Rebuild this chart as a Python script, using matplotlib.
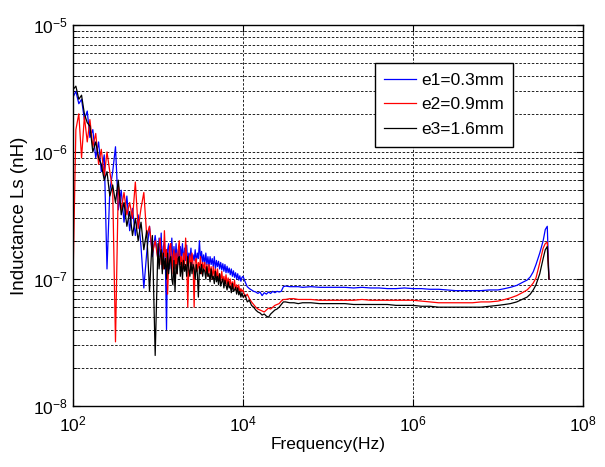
import numpy as np
import matplotlib
matplotlib.use("Agg")
import matplotlib.pyplot as plt
from matplotlib.ticker import LogLocator, FixedLocator, NullLocator, NullFormatter

plt.rcParams['font.family'] = ['Liberation Sans', 'DejaVu Sans']
plt.rcParams['mathtext.fontset'] = 'custom'
plt.rcParams['mathtext.rm'] = 'Liberation Sans'

# Frequency grid (Hz)
freq = [100, 108, 117, 126, 136, 147, 158, 171, 185, 200,
        215, 233, 251, 271, 293, 316, 341, 369, 398, 430,
        464, 501, 541, 584, 631, 681, 736, 794, 858, 926,
        1000, 1029, 1059, 1090, 1122, 1155, 1189, 1223, 1259, 1296,
        1334, 1372, 1413, 1454, 1496, 1540, 1585, 1631, 1679, 1728,
        1778, 1830, 1884, 1939, 1995, 2054, 2113, 2175, 2239, 2304,
        2371, 2441, 2512, 2585, 2661, 2738, 2818, 2901, 2985, 3073,
        3162, 3255, 3350, 3447, 3548, 3652, 3758, 3868, 3981, 4097,
        4217, 4340, 4467, 4597, 4732, 4870, 5012, 5158, 5309, 5464,
        5623, 5788, 5957, 6131, 6310, 6494, 6683, 6879, 7079, 7286,
        7499, 7718, 7943, 8175, 8414, 8660, 8913, 9173, 9441, 9716,
        10000, 10593, 11220, 11885, 12589, 13335, 14125, 14962, 15849, 16788,
        17783, 18836, 19953, 21135, 22387, 23714, 25119, 26607, 28184, 29854,
        31623, 35481, 39811, 44668, 50119, 63096, 79433, 1.0e5, 1.26e5, 1.58e5,
        2.0e5, 2.51e5, 3.16e5, 3.98e5, 5.01e5, 6.31e5, 7.94e5, 1.0e6, 1.26e6, 1.58e6,
        2.0e6, 2.51e6, 3.16e6, 3.98e6, 5.01e6, 6.31e6, 7.94e6, 1.0e7, 1.2e7, 1.4e7,
        1.66e7, 2.0e7, 2.2e7, 2.4e7, 2.6e7, 2.8e7, 3.1e7, 3.4e7, 3.6e7, 3.8e7,
        3.98e7]

# Inductance values in units of 1e-7
e1_vals = [27, 30, 24, 26, 18, 21, 13, 15, 9, 12,
           7, 9.5, 1.2, 5, 7, 11, 3.5, 5, 2.8, 4.5,
           2.4, 3.6, 2.2, 3.2, 1.8, 0.85, 1.6, 2.6, 1.5, 2.2,
           1.4, 2.1, 1.5, 2.3, 1.2, 1.8, 2.0, 1.3, 0.4, 1.7,
           1.9, 1.2, 1.6, 2.1, 1.3, 1.8, 1.4, 1.9, 1.25, 1.7,
           1.3, 1.8, 1.5, 1.9, 1.35, 1.75, 1.4, 1.85, 1.3, 1.6,
           1.45, 1.75, 1.3, 1.55, 1.4, 1.7, 1.35, 1.6, 1.45, 2.0,
           1.4, 1.65, 1.35, 1.55, 1.3, 1.6, 1.3, 1.5, 1.25, 1.5,
           1.3, 1.45, 1.25, 1.5, 1.2, 1.4, 1.25, 1.38, 1.2, 1.35,
           1.18, 1.32, 1.15, 1.3, 1.12, 1.26, 1.12, 1.22, 1.08, 1.2,
           1.05, 1.16, 1.03, 1.12, 1.0, 1.1, 0.98, 1.06, 0.96, 1.03,
           1.05, 0.95, 0.87, 0.84, 0.82, 0.80, 0.79, 0.77, 0.79, 0.74,
           0.78, 0.76, 0.79, 0.77, 0.80, 0.78, 0.80, 0.79, 0.80, 0.87,
           0.88, 0.87, 0.87, 0.87, 0.86, 0.87, 0.86, 0.86, 0.86, 0.86,
           0.85, 0.86, 0.85, 0.85, 0.84, 0.84, 0.85, 0.84, 0.84, 0.83,
           0.83, 0.82, 0.81, 0.81, 0.81, 0.81, 0.82, 0.82, 0.84, 0.86,
           0.89, 0.95, 0.98, 1.04, 1.14, 1.3, 1.6, 2.0, 2.45, 2.6,
           1.0]

e2_vals = [1.0, 15, 20, 9, 19, 12, 18, 11, 14, 8,
           10.5, 6.5, 10, 7, 5, 0.32, 5.5, 3.5, 4.8, 3.2,
           4, 3, 5.8, 2.5, 3.6, 4.8, 2.2, 2.6, 1.6, 2.0,
           1.4, 1.9, 2.1, 1.3, 1.6, 1.2, 2.4, 1.5, 1.7, 0.76,
           1.3, 1.8, 1.9, 1.1, 1.5, 1.7, 1.2, 1.6, 1.1, 1.7,
           2.0, 1.3, 1.5, 1.2, 1.6, 1.3, 2.1, 1.4, 0.6, 1.3,
           1.55, 1.2, 1.6, 1.3, 0.6, 1.4, 1.45, 1.15, 1.35, 1.2,
           1.5, 1.1, 1.35, 1.2, 1.35, 1.1, 1.3, 1.05, 1.3, 1.1,
           1.25, 1.0, 1.25, 1.05, 1.2, 1.0, 1.2, 0.98, 1.1, 0.96,
           1.15, 0.95, 1.05, 0.92, 1.08, 0.9, 1.02, 0.88, 1.0, 0.86,
           0.95, 0.84, 0.98, 0.82, 0.9, 0.8, 0.9, 0.78, 0.84, 0.8,
           0.82, 0.72, 0.76, 0.7, 0.66, 0.63, 0.6, 0.58, 0.57, 0.56,
           0.55, 0.57, 0.59, 0.58, 0.6, 0.62, 0.63, 0.64, 0.67, 0.69,
           0.69, 0.70, 0.70, 0.69, 0.69, 0.69, 0.68, 0.68, 0.68, 0.68,
           0.68, 0.69, 0.68, 0.68, 0.68, 0.68, 0.68, 0.68, 0.67, 0.66,
           0.65, 0.65, 0.65, 0.65, 0.65, 0.66, 0.66, 0.67, 0.69, 0.71,
           0.74, 0.79, 0.82, 0.87, 0.93, 1.02, 1.34, 1.75, 1.9, 1.95,
           1.0]

e3_vals = [31, 33, 26, 28, 20, 17, 16, 10, 12, 9,
           8, 6, 7, 4.5, 5.5, 4, 6, 3.2, 4, 2.6,
           3.4, 2.2, 3, 2.0, 2.8, 1.7, 2.4, 0.8, 2.2, 0.25,
           1.9, 1.2, 1.5, 1.7, 1.1, 1.6, 1.2, 1.45, 1.0, 1.6,
           1.1, 1.4, 1.5, 1.0, 0.9, 1.4, 0.8, 1.3, 1.1, 1.45,
           1.5, 1.05, 1.35, 1.0, 1.4, 1.15, 1.3, 1.05, 1.5, 1.2,
           1.05, 1.35, 1.1, 1.3, 1.2, 1.0, 1.3, 1.1, 0.72, 1.25,
           1.1, 1.3, 1.05, 1.2, 1.15, 1.0, 1.25, 1.05, 1.1, 0.95,
           1.2, 1.0, 1.05, 0.92, 1.15, 0.95, 1.05, 0.9, 1.1, 0.88,
           0.95, 1.0, 0.85, 0.98, 0.9, 0.82, 0.95, 0.85, 0.88, 0.78,
           0.92, 0.8, 0.82, 0.86, 0.76, 0.85, 0.75, 0.8, 0.72, 0.78,
           0.72, 0.75, 0.66, 0.68, 0.62, 0.6, 0.57, 0.55, 0.54, 0.52,
           0.53, 0.51, 0.5, 0.53, 0.55, 0.57, 0.58, 0.6, 0.63, 0.66,
           0.66, 0.65, 0.65, 0.64, 0.65, 0.65, 0.64, 0.64, 0.64, 0.64,
           0.63, 0.63, 0.63, 0.63, 0.63, 0.62, 0.62, 0.62, 0.61, 0.61,
           0.60, 0.60, 0.60, 0.60, 0.60, 0.60, 0.61, 0.62, 0.63, 0.64,
           0.66, 0.70, 0.72, 0.76, 0.82, 0.90, 1.1, 1.45, 1.7, 1.8,
           1.0]

labels = ['e1=0.3mm', 'e2=0.9mm', 'e3=1.6mm']
colors = ['#0000ff', '#ff0000', '#000000']

f = np.array(freq)
series = [np.array(v) * 1e-7 for v in (e1_vals, e2_vals, e3_vals)]

fig = plt.figure(figsize=(6.05, 4.67), dpi=100)
ax = fig.add_axes([0.1207, 0.1306, 0.8429, 0.8159])

for y, c, lab in zip(series, colors, labels):
    n = min(len(f), len(y))
    ax.plot(f[:n], y[:n], color=c, lw=0.9, label=lab)

ax.set_xscale('log')
ax.set_yscale('log')
ax.set_xlim(1e2, 1e8)
ax.set_ylim(1e-8, 1e-5)

ax.xaxis.set_major_locator(FixedLocator([1e2, 1e4, 1e6, 1e8]))
ax.xaxis.set_minor_locator(NullLocator())
ax.yaxis.set_major_locator(LogLocator(base=10, numticks=10))
ax.yaxis.set_minor_locator(LogLocator(base=10, subs=np.arange(2, 10), numticks=20))
ax.yaxis.set_minor_formatter(NullFormatter())

dash = (0, (3, 2))
ax.grid(True, which='major', axis='both', color='black', lw=0.6, linestyle=dash)
ax.grid(True, which='minor', axis='y', color='black', lw=0.6, linestyle=dash)

ax.tick_params(which='both', direction='in', top=True, right=True, labelsize=12.5)
ax.tick_params(which='major', length=5, width=0.8)
ax.tick_params(which='minor', length=3, width=0.6)
ax.tick_params(axis='x', pad=6)
for s in ax.spines.values():
    s.set_linewidth(1.0)

ax.set_xlabel('Frequency(Hz)', fontsize=12.5, labelpad=2)
ax.set_ylabel('Inductance Ls (nH)', fontsize=13.5, labelpad=4)

leg = ax.legend(loc='upper left', bbox_to_anchor=(0.592, 0.900), fontsize=12.5,
                fancybox=False, framealpha=1, edgecolor='black', handlelength=1.8,
                borderpad=0.55, labelspacing=0.55, handletextpad=0.3, borderaxespad=0)
leg.get_frame().set_linewidth(1.0)

fig.savefig('out.png', dpi=100)
